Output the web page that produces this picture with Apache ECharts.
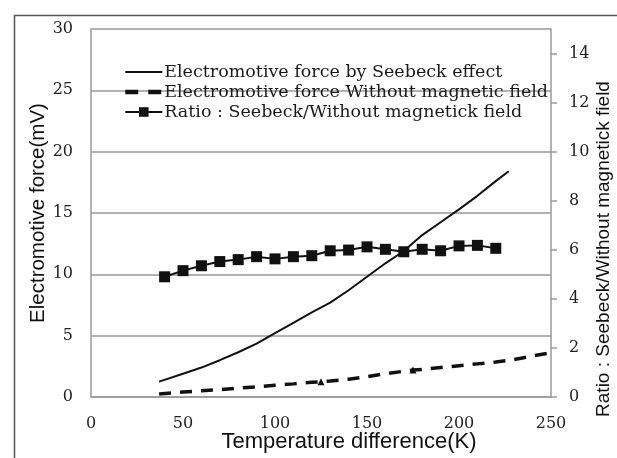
<!DOCTYPE html>
<html><head><meta charset="utf-8">
<script src="https://cdn.jsdelivr.net/npm/echarts@6/dist/echarts.min.js"></script>
<style>html,body{margin:0;padding:0;background:#fff}#c{width:617px;height:458px}</style>
</head><body><div id="c"></div>
<script>
// Electromotive force by Seebeck effect (mV)
const seebeckT = [37, 50, 60, 70, 80, 90, 100, 110, 120, 130, 140, 150, 160, 170, 180, 190, 200, 210, 220, 227];
const seebeckV = [1.25, 1.9, 2.4, 3.0, 3.65, 4.35, 5.2, 6.05, 6.9, 7.7, 8.7, 9.8, 10.9, 11.9, 13.2, 14.25, 15.3, 16.4, 17.6, 18.4];
// Electromotive force without magnetic field (mV)
const noFieldT = [37, 50, 60, 70, 80, 90, 100, 110, 120, 125, 130, 140, 150, 160, 170, 175, 180, 190, 200, 210, 220, 230, 240, 250];
const noFieldV = [0.25, 0.4, 0.5, 0.6, 0.72, 0.82, 0.95, 1.07, 1.2, 1.25, 1.3, 1.45, 1.65, 1.9, 2.1, 2.2, 2.25, 2.4, 2.55, 2.7, 2.85, 3.05, 3.35, 3.6];
const noFieldMarkedT = [125, 175];
// Ratio Seebeck / without field
const ratioT = [40, 50, 60, 70, 80, 90, 100, 110, 120, 130, 140, 150, 160, 170, 180, 190, 200, 210, 220];
const ratioV = [4.9, 5.15, 5.35, 5.52, 5.6, 5.72, 5.63, 5.72, 5.76, 5.96, 5.99, 6.12, 6.02, 5.92, 6.02, 5.96, 6.16, 6.18, 6.06];
const rightTicks = [0, 2, 4, 6, 8, 10, 12, 14];
const names = ['Electromotive force by Seebeck effect', 'Electromotive force Without magnetic field', 'Ratio : Seebeck/Without magnetick field'];

const serif = 'DejaVu Serif';
const sans = 'Liberation Sans';
const hidden = {color: 'rgba(0,0,0,0)', borderWidth: 0, opacity: 0};
const chart = echarts.init(document.getElementById('c'), null, {renderer: 'canvas'});
chart.setOption({
  animation: false,
  backgroundColor: '#fff',
  graphic: [{type: 'rect', left: 12, top: 13, shape: {width: 700, height: 500}, style: {fill: 'none', stroke: '#555', lineWidth: 1.5}, silent: true}],
  grid: {left: 91, right: 66, top: 29, bottom: 61, outerBoundsMode: 'none', containLabel: false},
  legend: {
    left: 123, top: 62, orient: 'vertical', itemWidth: 37, itemHeight: 12, itemGap: 0, padding: 0,
    data: [
      {name: names[0], itemStyle: hidden},
      {name: names[1], itemStyle: hidden, lineStyle: {width: 4.5, type: [13, 10]}},
      {name: names[2]}
    ],
    textStyle: {fontFamily: serif, fontSize: 17.5, lineHeight: 20, color: '#1a1a1a', padding: [0, 0, 0, -3]},
    backgroundColor: 'rgba(255,255,255,0)'
  },
  xAxis: {
    type: 'value', min: 0, max: 250, interval: 50,
    name: 'Temperature difference(K)', nameLocation: 'middle', nameGap: 34, nameMoveOverlap: false,
    nameTextStyle: {fontFamily: sans, fontSize: 22, color: '#111', padding: [0, 0, 0, 56]},
    axisLine: {lineStyle: {color: '#999', width: 1.5}},
    axisTick: {show: false},
    axisLabel: {fontFamily: serif, fontSize: 16, color: '#222', margin: 19},
    splitLine: {show: false}
  },
  yAxis: [{
    type: 'value', min: 0, max: 30, interval: 5,
    name: 'Electromotive force(mV)', nameLocation: 'middle', nameGap: 53, nameRotate: 90, nameMoveOverlap: false,
    nameTextStyle: {fontFamily: sans, fontSize: 20.5, color: '#111', verticalAlign: 'middle'},
    axisLine: {show: true, lineStyle: {color: '#999', width: 1.5}},
    axisTick: {show: false},
    axisLabel: {fontFamily: serif, fontSize: 16, color: '#222', margin: 18},
    splitLine: {lineStyle: {color: '#999', width: 1.5}}
  }, {
    type: 'value', min: 0, max: 15, interval: 2, position: 'right',
    name: 'Ratio : Seebeck/Without magnetick field', nameLocation: 'middle', nameGap: 53, nameRotate: 90, nameMoveOverlap: false,
    nameTextStyle: {fontFamily: sans, fontSize: 19, color: '#111', verticalAlign: 'middle', padding: [0, 72, 0, 0]},
    axisLine: {show: true, lineStyle: {color: '#999', width: 1.5}},
    axisTick: {show: true, length: 6, inside: false, lineStyle: {color: '#999', width: 1.5}, customValues: rightTicks},
    axisLabel: {fontFamily: serif, fontSize: 16, color: '#222', margin: 18, customValues: rightTicks},
    splitLine: {show: false}
  }],
  series: [{
    name: names[0], type: 'line', yAxisIndex: 0, showSymbol: false, symbol: 'none',
    data: seebeckT.map((t, i) => [t, seebeckV[i]]),
    lineStyle: {color: '#111', width: 2},
    itemStyle: {color: '#111'}
  }, {
    name: names[1], type: 'line', yAxisIndex: 0, symbol: 'none',
    data: noFieldT.map((t, i) => noFieldMarkedT.includes(t)
      ? {value: [t, noFieldV[i]], symbol: 'triangle', symbolSize: 7}
      : [t, noFieldV[i]]),
    lineStyle: {color: '#111', width: 3.5, type: [12, 9]},
    itemStyle: {color: '#111'}
  }, {
    name: names[2], type: 'line', yAxisIndex: 1, symbol: 'rect', symbolSize: 11,
    data: ratioT.map((t, i) => [t, ratioV[i]]),
    lineStyle: {color: '#111', width: 2},
    itemStyle: {color: '#111'}
  }]
});
</script></body></html>
